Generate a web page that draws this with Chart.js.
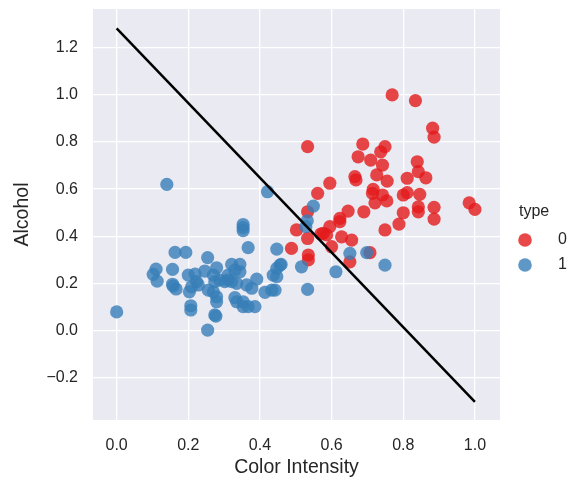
<!DOCTYPE html>
<html>
<head>
<meta charset="utf-8">
<script src="https://cdn.jsdelivr.net/npm/chart.js@4/dist/chart.umd.min.js"></script>
<style>
  body { margin: 0; background: #fff; }
  canvas { display: block; }
</style>
</head>
<body>
<canvas id="wineChart" width="574" height="481"></canvas>
<script>
// normalised colour intensity (x) and alcohol (y), type 0
const type0X = [0.769, 0.834, 0.882, 0.886, 0.533, 0.687, 0.749, 0.737, 0.674, 0.709,
  0.742, 0.839, 0.842, 0.863, 0.726, 0.755, 0.811, 0.665, 0.668, 0.595,
  0.561, 0.716, 0.714, 0.721, 0.742, 0.754, 0.800, 0.811, 0.846, 0.842,
  0.886, 0.984, 1.000, 0.646, 0.690, 0.623, 0.800, 0.842, 0.533, 0.886,
  0.788, 0.749, 0.623, 0.595, 0.577, 0.586, 0.628, 0.656, 0.600, 0.502,
  0.533, 0.488, 0.535, 0.535, 0.651, 0.707, 0.570];
const type0Y = [0.999, 0.975, 0.858, 0.820, 0.780, 0.791, 0.780, 0.758, 0.737, 0.723,
  0.702, 0.716, 0.674, 0.648, 0.660, 0.634, 0.646, 0.653, 0.639, 0.625,
  0.582, 0.599, 0.582, 0.542, 0.575, 0.550, 0.575, 0.585, 0.578, 0.525,
  0.523, 0.542, 0.514, 0.507, 0.504, 0.476, 0.500, 0.504, 0.504, 0.473,
  0.452, 0.427, 0.462, 0.441, 0.413, 0.406, 0.398, 0.384, 0.356, 0.427,
  0.391, 0.349, 0.321, 0.300, 0.292, 0.331, 0.410];

// type 1
const type1X = [0.000, 0.140, 0.163, 0.193, 0.110, 0.102, 0.113, 0.156, 0.156, 0.166,
  0.200, 0.219, 0.203, 0.207, 0.207, 0.254, 0.277, 0.421, 0.353, 0.353,
  0.353, 0.367, 0.447, 0.254, 0.246, 0.279, 0.321, 0.344, 0.344, 0.459,
  0.447, 0.437, 0.391, 0.433, 0.414, 0.442, 0.377, 0.386, 0.367, 0.353,
  0.335, 0.330, 0.274, 0.223, 0.549, 0.532, 0.528, 0.698, 0.651, 0.749,
  0.612, 0.516, 0.533, 0.456, 0.447, 0.270, 0.274, 0.288, 0.302, 0.311,
  0.321, 0.335, 0.256, 0.270, 0.279, 0.279, 0.363, 0.228, 0.353, 0.311,
  0.330, 0.158, 0.209];
const type1Y = [0.080, 0.620, 0.332, 0.332, 0.261, 0.239, 0.210, 0.260, 0.197, 0.177,
  0.236, 0.240, 0.165, 0.106, 0.088, 0.003, 0.062, 0.589, 0.450, 0.437,
  0.424, 0.352, 0.346, 0.310, 0.253, 0.267, 0.281, 0.281, 0.250, 0.281,
  0.264, 0.236, 0.219, 0.172, 0.163, 0.172, 0.180, 0.102, 0.102, 0.102,
  0.123, 0.140, 0.067, 0.208, 0.528, 0.466, 0.441, 0.331, 0.328, 0.278,
  0.250, 0.271, 0.175, 0.278, 0.229, 0.236, 0.208, 0.215, 0.208, 0.215,
  0.208, 0.201, 0.172, 0.165, 0.144, 0.123, 0.194, 0.194, 0.123, 0.236,
  0.257, 0.189, 0.186];

// decision boundary end points
const boundaryX = [0, 1];
const boundaryY = [1.281, -0.301];

const legendLabels = ['0', '1'];
const red = 'rgba(228, 26, 28, 0.8)';
const blue = 'rgba(55, 126, 184, 0.8)';
const font = "'Liberation Sans', Arial, sans-serif";
const textColor = '#262626';

function toPoints(xs, ys) {
  return xs.map(function(x, i) { return {x: x, y: ys[i]}; });
}

function fmt(v) {
  return v.toFixed(1).replace('-', '\u2212');
}

// grey panel behind the plot
const panel = {
  id: 'panel',
  beforeDraw: function(chart) {
    const a = chart.chartArea;
    const ctx = chart.ctx;
    ctx.save();
    ctx.fillStyle = '#EAEAF2';
    ctx.fillRect(a.left, a.top, a.right - a.left, a.bottom - a.top);
    ctx.restore();
  }
};

// hue legend on the right
const hueLegend = {
  id: 'hueLegend',
  afterDraw: function(chart) {
    const ctx = chart.ctx;
    ctx.save();
    ctx.fillStyle = textColor;
    ctx.font = '16px ' + font;
    ctx.textBaseline = 'middle';
    ctx.textAlign = 'left';
    ctx.fillText('type', 519, 212);
    const cols = [red, blue];
    for (let i = 0; i < legendLabels.length; i++) {
      const y = 240 + i * 25;
      ctx.fillStyle = cols[i];
      ctx.beginPath();
      ctx.arc(525, y, 6.8, 0, Math.PI * 2);
      ctx.fill();
      ctx.fillStyle = textColor;
      ctx.fillText(legendLabels[i], 558, y);
    }
    ctx.restore();
  }
};

// keep the plot box fixed: no extra room for overflowing tick labels
function noEdgePad(s) {
  s.paddingTop = 0;
  s.paddingBottom = 0;
  s.paddingLeft = 0;
  s.paddingRight = 0;
}

const canvas = document.getElementById('wineChart');
const chart = new Chart(canvas, {
  type: 'scatter',
  data: {
    datasets: [{
      type: 'line',
      data: toPoints(boundaryX, boundaryY),
      borderColor: '#000',
      borderWidth: 2.5,
      pointRadius: 0,
      fill: false,
      order: 0
    }, {
      label: '1',
      data: toPoints(type1X, type1Y),
      backgroundColor: blue,
      borderWidth: 0,
      pointRadius: 6.6,
      order: 1
    }, {
      label: '0',
      data: toPoints(type0X, type0Y),
      backgroundColor: red,
      borderWidth: 0,
      pointRadius: 6.6,
      order: 2
    }]
  },
  options: {
    responsive: false,
    animation: false,
    events: [],
    layout: { padding: { left: 0, right: 74, top: 9, bottom: 0 } },
    plugins: {
      legend: { display: false },
      tooltip: { enabled: false }
    },
    scales: {
      x: {
        type: 'linear',
        min: -0.066,
        max: 1.07,
        afterFit: function(s) { s.height = 61; noEdgePad(s); },
        grid: { color: '#fff', lineWidth: 1.3, drawTicks: false },
        border: { display: false },
        ticks: {
          stepSize: 0.2,
          includeBounds: false,
          padding: 16,
          color: textColor,
          font: { family: font, size: 16 },
          callback: fmt
        },
        title: {
          display: true,
          text: 'Color Intensity',
          color: textColor,
          font: { family: font, size: 19.5 },
          padding: { top: 0, bottom: 2 }
        }
      },
      y: {
        type: 'linear',
        min: -0.378,
        max: 1.363,
        afterFit: function(s) { s.width = 93; noEdgePad(s); },
        grid: { color: '#fff', lineWidth: 1.3, drawTicks: false },
        border: { display: false },
        ticks: {
          stepSize: 0.2,
          includeBounds: false,
          padding: 15,
          color: textColor,
          font: { family: font, size: 16 },
          callback: fmt
        },
        title: {
          display: true,
          text: 'Alcohol',
          color: textColor,
          font: { family: font, size: 19.5 },
          padding: { top: 11, bottom: 0 }
        }
      }
    }
  },
  plugins: [panel, hueLegend]
});
</script>
</body>
</html>
